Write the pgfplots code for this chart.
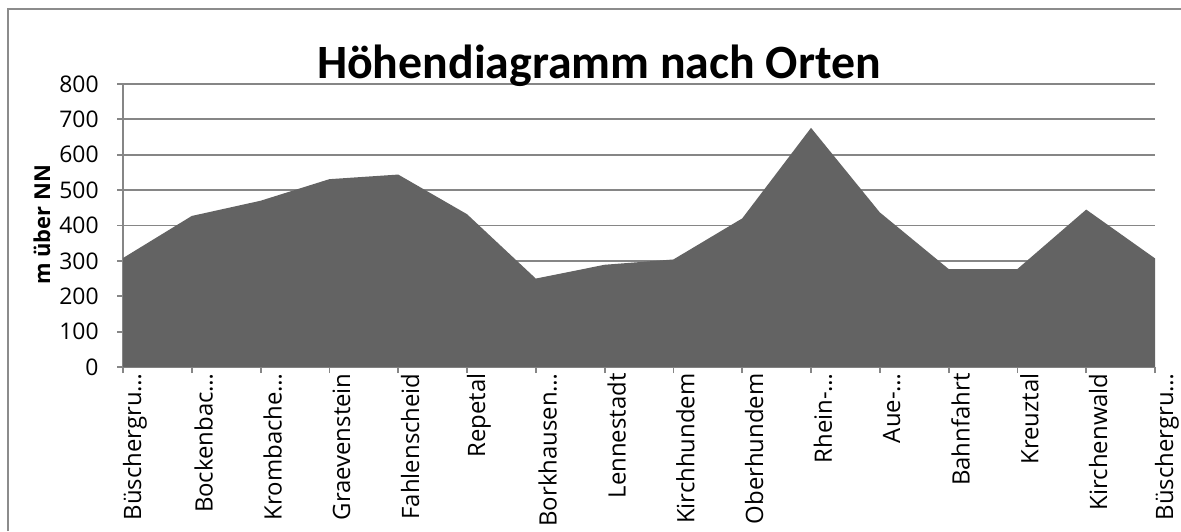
\documentclass[border=0pt]{standalone}
\usepackage{fontspec}
\setmainfont{Carlito}
\newfontfamily\labfont{Open Sans}
\usepackage{pgfplots}
\pgfplotsset{compat=1.18}
\definecolor{areagray}{RGB}{99,99,99}
\definecolor{gridgray}{RGB}{134,134,134}
\definecolor{framegray}{RGB}{140,140,140}
\begin{document}
\begin{tikzpicture}[x=1bp,y=1bp]
\path[use as bounding box] (0,0) rectangle (590.5,265.5);
\fill[white] (0,0) rectangle (590.5,265.5);
\draw[framegray,line width=1bp] (4,0) -- (4,260.75) -- (590.5,260.75);
\begin{axis}[
  at={(61.5bp,82bp)}, anchor=south west,
  scale only axis, width=516bp, height=141.5bp,
  xmin=0, xmax=15, ymin=0, ymax=800,
  ytick={0,100,...,800},
  xtick={0,1,...,15},
  xticklabels={Büschergru…,Bockenbac…,Krombache…,Graevenstein,Fahlenscheid,Repetal,Borkhausen…,Lennestadt,Kirchhundem,Oberhundem,Rhein-…,Aue-…,Bahnfahrt,Kreuztal,Kirchenwald,Büschergru…},
  axis x line*=bottom, axis y line*=left,
  ymajorgrids, grid style={gridgray, line width=0.9bp},
  axis line style={gridgray, line width=0.9bp},
  tick style={gridgray, line width=0.9bp},
  major tick length=3bp, tick align=outside,
  /pgf/number format/assume math mode=true,
  xticklabel style={rotate=90, anchor=east, font=\labfont\fontsize{12}{13}\selectfont, inner sep=0pt, yshift=-6bp},
  yticklabel style={font=\labfont\fontsize{11.5}{13}\selectfont, inner sep=0pt, xshift=-9bp},
  clip=false,
]
\addplot[fill=areagray, draw=none] coordinates {
(0,308) (1,427) (2,470) (3,531) (4,544) (5,432) (6,250) (7,289) (8,304) (9,420) (10,676) (11,437) (12,277) (13,277) (14,445) (15,307)
} \closedcycle;
\end{axis}
\node[anchor=base, font=\bfseries\fontsize{24}{26}\selectfont] at (299.5,226.5) {Höhendiagramm nach Orten};
\node[rotate=90, font=\labfont\bfseries\fontsize{11}{13}\selectfont] at (21,153) {m über NN};
\end{tikzpicture}
\end{document}
